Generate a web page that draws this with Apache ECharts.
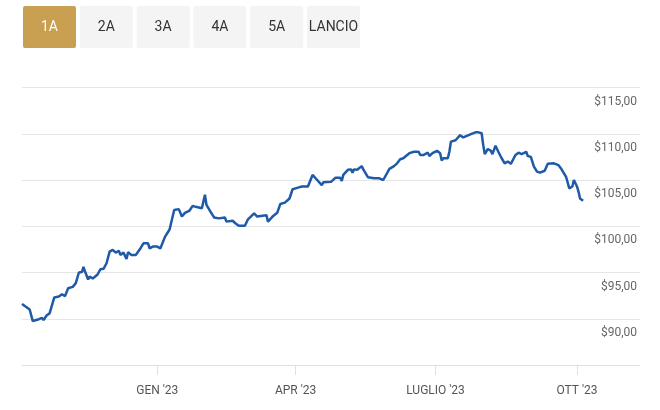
<!DOCTYPE html>
<html>
<head>
<meta charset="utf-8">
<script src="https://cdn.jsdelivr.net/npm/echarts@6/dist/echarts.min.js"></script>
<style>
html,body{margin:0;padding:0;background:#fff;}
#chart{width:660px;height:410px;}
</style>
</head>
<body>
<div id="chart"></div>
<script>
const buttonLabels = ['1A','2A','3A','4A','5A','LANCIO'];
const activeButton = 0;

const dates = [
'2022-10-05','2022-10-10','2022-10-12','2022-10-13','2022-10-16','2022-10-18','2022-10-19','2022-10-21','2022-10-23','2022-10-24',
'2022-10-26','2022-10-29','2022-10-31','2022-11-01','2022-11-02','2022-11-04','2022-11-07','2022-11-09','2022-11-11','2022-11-13',
'2022-11-14','2022-11-15','2022-11-17','2022-11-18','2022-11-20','2022-11-23','2022-11-25','2022-11-27','2022-11-29','2022-12-01',
'2022-12-03','2022-12-05','2022-12-07','2022-12-08','2022-12-10','2022-12-12','2022-12-13','2022-12-15','2022-12-18','2022-12-21',
'2022-12-23','2022-12-26','2022-12-27','2022-12-29','2023-01-01','2023-01-03','2023-01-06','2023-01-09','2023-01-12','2023-01-15',
'2023-01-17','2023-01-19','2023-01-20','2023-01-22','2023-01-24','2023-01-26','2023-01-30','2023-02-01','2023-02-02','2023-02-04',
'2023-02-06','2023-02-07','2023-02-10','2023-02-14','2023-02-15','2023-02-19','2023-02-21','2023-02-22','2023-02-23','2023-02-27',
'2023-03-01','2023-03-02','2023-03-05','2023-03-07','2023-03-08','2023-03-13','2023-03-14','2023-03-17','2023-03-20','2023-03-22',
'2023-03-25','2023-03-28','2023-03-30','2023-04-01','2023-04-03','2023-04-05','2023-04-09','2023-04-12','2023-04-15','2023-04-18',
'2023-04-19','2023-04-24','2023-04-27','2023-04-30','2023-05-01','2023-05-02','2023-05-05','2023-05-07','2023-05-08','2023-05-09',
'2023-05-11','2023-05-14','2023-05-15','2023-05-18','2023-05-22','2023-05-23','2023-05-25','2023-05-28','2023-05-29','2023-06-01',
'2023-06-04','2023-06-06','2023-06-08','2023-06-10','2023-06-14','2023-06-17','2023-06-20','2023-06-21','2023-06-23','2023-06-26',
'2023-06-27','2023-06-29','2023-07-02','2023-07-04','2023-07-05','2023-07-06','2023-07-09','2023-07-10','2023-07-11','2023-07-14',
'2023-07-15','2023-07-17','2023-07-19','2023-07-21','2023-07-24','2023-07-27','2023-07-29','2023-07-31','2023-08-01','2023-08-02',
'2023-08-04','2023-08-06','2023-08-07','2023-08-09','2023-08-11','2023-08-13','2023-08-15','2023-08-17','2023-08-19','2023-08-20',
'2023-08-22','2023-08-24','2023-08-26','2023-08-29','2023-08-30','2023-09-01','2023-09-03','2023-09-05','2023-09-07','2023-09-10',
'2023-09-12','2023-09-16','2023-09-19','2023-09-20','2023-09-21','2023-09-22','2023-09-24','2023-09-26','2023-09-28','2023-09-29',
'2023-10-01','2023-10-02','2023-10-03','2023-10-05'
];

const prices = [
91.6,91.0,89.75,89.65,89.95,90.1,89.85,90.35,90.6,90.75,
92.3,92.4,92.65,92.8,92.45,93.3,93.45,93.85,95.0,95.05,
95.6,95.1,94.25,94.55,94.35,94.75,95.35,95.4,96.0,97.25,
97.45,97.15,97.35,96.9,97.15,96.45,97.2,96.9,96.9,97.6,
98.15,98.15,97.6,97.8,97.8,97.6,98.85,99.65,101.75,101.85,
101.05,101.45,101.3,101.7,102.2,102.1,101.95,103.4,102.3,101.75,
101.2,100.95,100.85,100.95,100.5,100.6,100.3,100.5,100.05,100.05,
100.75,100.6,101.4,101.05,101.2,101.2,100.5,101.05,101.45,102.4,
102.55,103.0,104.0,104.1,104.2,104.3,104.3,105.55,105.0,104.45,
104.75,104.8,105.25,105.25,104.9,105.55,106.1,106.15,105.8,106.15,
106.1,106.5,106.15,105.3,105.2,105.0,105.2,105.0,104.85,106.2,
106.5,106.8,107.25,107.35,107.9,108.05,108.05,107.7,107.7,107.95,
107.6,107.9,108.15,107.9,107.1,107.35,107.35,108.05,109.15,109.3,
109.25,109.85,109.6,109.75,109.95,110.15,110.15,110.05,108.8,107.8,
108.35,108.15,107.8,108.7,108.0,107.35,106.8,107.0,106.75,106.6,
107.7,107.95,107.8,108.05,107.6,107.5,106.45,105.9,105.8,106.0,
106.75,106.8,106.6,106.8,106.15,106.1,105.3,104.1,104.3,105.0,
104.3,103.75,103.0,102.75
];

const xTickDates = ['2023-01-01','2023-04-01','2023-07-01','2023-10-01'];
const xTickLabels = ["GEN '23","APR '23","LUGLIO '23","OTT '23"];
const xRange = ['2022-10-05','2023-11-11'];
const yTicks = [85,90,95,100,105,110,115];

function ts(s){ const p = s.split('-').map(Number); return Date.UTC(p[0], p[1]-1, p[2]); }

const seriesData = dates.map((d,i)=>[ts(d), prices[i]]);
const tickVals = xTickDates.map(ts);
const labelMap = {};
tickVals.forEach((t,i)=>{ labelMap[t] = xTickLabels[i]; });

const FONT = 'Roboto, "Noto Sans", sans-serif';

const graphics = [];
buttonLabels.forEach((lab, i) => {
  const x = 23 + i * 56.8;
  const active = i === activeButton;
  graphics.push({
    type: 'rect',
    left: x, top: 6,
    shape: { width: 53, height: 42, r: 2 },
    style: { fill: active ? '#c9a052' : '#f4f4f4' },
    silent: true
  });
  graphics.push({
    type: 'text',
    x: x + 26.5, y: 27,
    style: {
      text: lab,
      fill: active ? '#ffffff' : '#333333',
      font: '14px ' + FONT,
      textAlign: 'center',
      textVerticalAlign: 'middle'
    },
    silent: true
  });
});

const chart = echarts.init(document.getElementById('chart'), null, {renderer: 'canvas'});
chart.setOption({
  animation: false,
  backgroundColor: '#ffffff',
  textStyle: { fontFamily: FONT },
  graphic: graphics,
  grid: { left: 22, right: 20, top: 87.5, bottom: 45, containLabel: false },
  xAxis: {
    type: 'value',
    min: ts(xRange[0]),
    max: ts(xRange[1]),
    axisLine: { show: true, lineStyle: { color: '#e0e0e0', width: 1 } },
    axisTick: { show: true, customValues: tickVals, length: 10, lineStyle: { color: '#e0e0e0' } },
    axisLabel: {
      customValues: tickVals,
      formatter: v => labelMap[v] || '',
      color: '#555555', fontSize: 12, fontFamily: FONT, margin: 20
    },
    splitLine: { show: false }
  },
  yAxis: {
    type: 'value',
    position: 'right',
    min: yTicks[0],
    max: yTicks[yTicks.length - 1],
    interval: 5,
    axisLine: { show: false },
    axisTick: { show: false },
    splitLine: { show: true, lineStyle: { color: '#e6e6e6', width: 1 } },
    axisLabel: {
      inside: true,
      margin: 3,
      color: '#666666',
      fontSize: 12,
      fontFamily: FONT,
      verticalAlign: 'top',
      lineHeight: 14,
      padding: [7, 0, 0, 0],
      formatter: v => v === yTicks[0] ? '' : '$' + v.toFixed(2).replace('.', ',')
    }
  },
  series: [{
    type: 'line',
    data: seriesData,
    showSymbol: false,
    smooth: false,
    lineStyle: { color: '#1e5aa8', width: 2.5 },
    itemStyle: { color: '#1e5aa8' }
  }]
});
</script>
</body>
</html>
